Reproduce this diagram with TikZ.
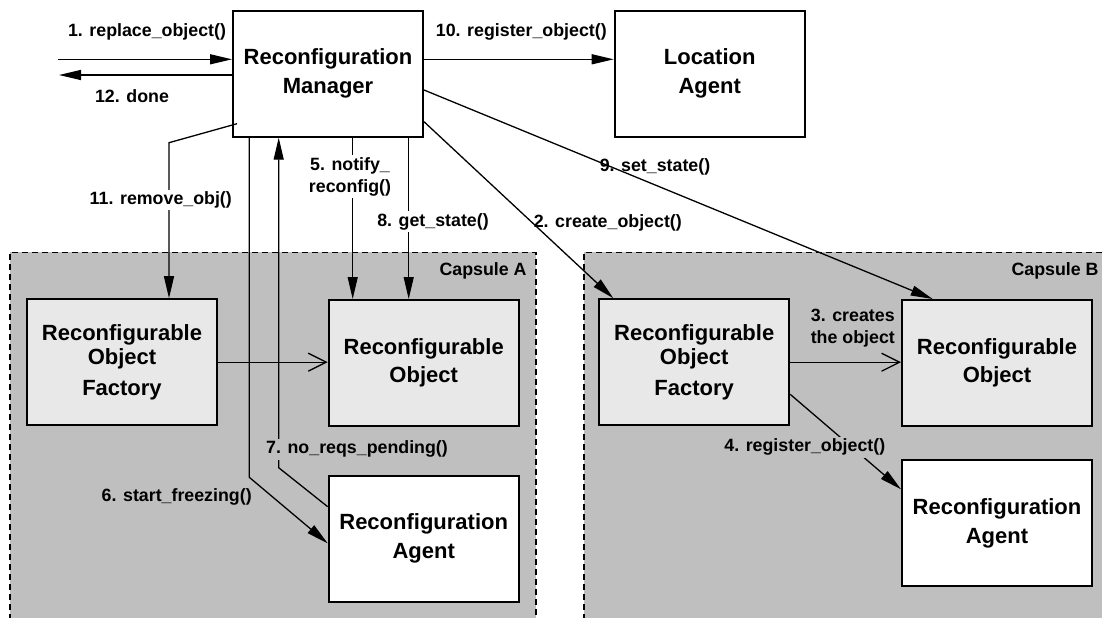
\documentclass[tikz,border=0pt]{standalone}
\usepackage{fontspec}
\setmainfont{Liberation Sans}
\usetikzlibrary{arrows.meta}

\definecolor{capsulegray}{gray}{0.75}
\definecolor{objgray}{gray}{0.91}

\tikzset{
    box/.style={draw, line width=1pt, minimum width=95pt, minimum height=63pt,
        inner sep=0pt, align=center, font=\fontsize{11}{14.5}\selectfont\bfseries},
    objbox/.style={box, fill=objgray},
    agentbox/.style={box, fill=white},
    lbl/.style={inner sep=1pt, align=center, font=\fontsize{8.9}{11}\selectfont\bfseries},
    arr/.style={line width=0.65pt, -{Triangle[length=11pt,width=5pt]}},
    openarr/.style={line width=0.65pt, -{Straight Barb[length=9pt,width=9pt]}},
    capsule/.style={line width=0.65pt, dash pattern=on 3pt off 2pt}
}

\begin{document}
\begin{tikzpicture}[x=0.5pt, y=-0.5pt]

    \clip (0,0) rectangle (1102,617);

    % capsules
    \fill[capsulegray] (10,252.3) rectangle (536,620);
    \draw[capsule] (10,620) -- (10,252.3) -- (536,252.3) -- (536,620);
    \fill[capsulegray] (584,252.3) rectangle (1110,620);
    \draw[capsule] (584,620) -- (584,252.3) -- (1110,252.3);
    \node[lbl, anchor=east] (capA) at (529,271) {Capsule A};
    \node[lbl, anchor=east] (capB) at (1101,271) {Capsule B};

    % boxes
    \node[box] (mgr) at (328,73.7) {Reconfiguration\\Manager};
    \node[box] (loc) at (709.7,73.7) {Location\\Agent};
    \node[objbox] (facA) at (122,362.2) {Reconfigurable\\[-2.5pt]Object\\[0.8pt]Factory};
    \node[objbox] (objA) at (423.7,363) {Reconfigurable\\[-0.8pt]Object};
    \node[agentbox] (agtA) at (423.7,538.8) {Reconfiguration\\Agent};
    \node[objbox] (facB) at (694.2,362.2) {Reconfigurable\\[-2.5pt]Object\\[0.8pt]Factory};
    \node[objbox] (objB) at (997,363) {Reconfigurable\\[-0.8pt]Object};
    \node[agentbox] (agtB) at (997,522.9) {Reconfiguration\\Agent};

    % calls
    \coordinate (caller) at (58,59.3);
    \coordinate (done) at (59,75);
    \draw[arr] (caller) -- (caller -| mgr.west);
    \draw[arr] (done -| mgr.west) -- (done);
    \draw[arr] (mgr.east |- caller) -- (loc.west |- caller);
    \draw[arr] (mgr.east |- 0,90) -- (objB.north -| 932.7,0);
    \draw[arr] (mgr.east |- 0,121.7) -- (facB.north -| 613.3,0);
    \draw[arr] ([shift={(5,-14)}]mgr.south west) -- (169,142.7) -- (facA.north -| 169,0);
    \draw[arr] (mgr.south -| 249.3,0) -- (249.3,477.3) -- (agtA.west |- 0,543.3);
    \draw[arr] (agtA.west |- 0,506.7) -- (278.7,467.7) -- (mgr.south -| 278.7,0);
    \draw[arr] (mgr.south -| 352.7,0) -- (objA.north -| 352.7,0);
    \draw[arr] (mgr.south -| 408.7,0) -- (objA.north -| 408.7,0);
    \draw[openarr] (facA.east) -- (facA.east -| objA.west);
    \draw[openarr] (facB.east) -- (facB.east -| objB.west);
    \draw[arr] (facB.east |- 0,394.3) -- (agtB.west |- 0,489.3);

    % labels
    \node[lbl] (l1) at (147,31.7) {1. replace\_object()};
    \node[lbl] (l12) at (132,95.7) {12. done};
    \node[lbl] (l10) at (521.3,31.7) {10. register\_object()};
    \node[lbl] (l9) at (655,166.7) {9. set\_state()};
    \node[lbl] (l2) at (607.8,223.3) {2. create\_object()};
    \node[lbl, fill=white] (l11) at (160.8,200) {11. remove\_obj()};
    \node[lbl, fill=white] (l5) at (350,176.7) {5. notify\_\\reconfig()};
    \node[lbl, fill=white] (l8) at (433,221.7) {8. get\_state()};
    \node[lbl, fill=capsulegray] (l7) at (357,449.3) {7. no\_reqs\_pending()};
    \node[lbl] (l6) at (176.7,497.3) {6. start\_freezing()};
    \node[lbl] (l3) at (852.8,328.2) {3. creates\\the object};
    \node[lbl, fill=capsulegray] (l4) at (804.8,447.3) {4. register\_object()};

\end{tikzpicture}
\end{document}
